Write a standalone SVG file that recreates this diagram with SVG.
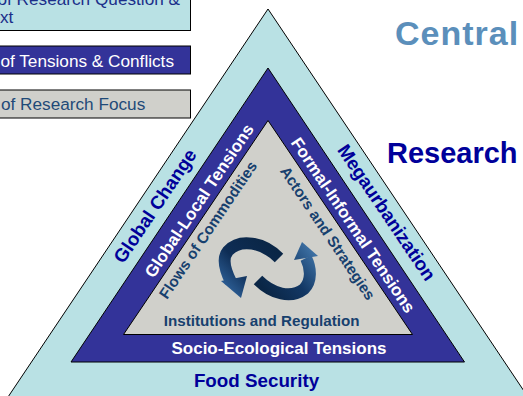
<svg xmlns="http://www.w3.org/2000/svg" width="523" height="396" viewBox="0 0 523 396">
  <style>
    .edge { stroke: #000; stroke-width: 1; }
    .box-text { font-family: "Liberation Sans", Arial, sans-serif; font-size: 17.2px; }
    .lbl { font-family: "Liberation Sans", Arial, sans-serif; font-weight: bold; text-anchor: middle; }
    .outer-lbl { font-size: 18.8px; fill: #00009a; }
    .mid-lbl { font-size: 17px; fill: #ffffff; }
    .inner-lbl { font-size: 15.2px; fill: #17406e; }
  </style>
  <defs>
    <linearGradient id="gradLeft" gradientUnits="userSpaceOnUse" x1="280" y1="255" x2="236" y2="296">
      <stop offset="0" stop-color="#0a2646"/>
      <stop offset="0.6" stop-color="#0e2d55"/>
      <stop offset="1" stop-color="#2a5a90"/>
    </linearGradient>
    <linearGradient id="gradRight" gradientUnits="userSpaceOnUse" x1="258" y1="282" x2="306" y2="244">
      <stop offset="0" stop-color="#0a2646"/>
      <stop offset="0.5" stop-color="#123764"/>
      <stop offset="1" stop-color="#3c6fa2"/>
    </linearGradient>
  </defs>

  <rect width="523" height="396" fill="#ffffff"/>

  <!-- legend boxes -->
  <g id="legend-context">
    <rect x="-5" y="-10" width="195.5" height="40.5" fill="#b9e1e4" class="edge"/>
    <text class="box-text" x="180" y="4.5" text-anchor="end" fill="#1b2f8a">of Research Question &amp;</text>
    <text class="box-text" x="0" y="22.7" fill="#1b2f8a">xt</text>
  </g>
  <g id="legend-tensions">
    <rect x="-5" y="46" width="195.5" height="28" fill="#333399" class="edge"/>
    <text class="box-text" x="174" y="66.5" text-anchor="end" fill="#ffffff">of Tensions &amp; Conflicts</text>
  </g>
  <g id="legend-focus">
    <rect x="-5" y="90" width="195.5" height="28" fill="#d0d0cb" class="edge"/>
    <text class="box-text" x="1" y="110" fill="#1f4a78">of Research Focus</text>
  </g>

  <!-- nested triangles -->
  <g id="ring-outer">
    <polygon points="268,9 -0.7,410 536.7,410" fill="#b9e1e4" class="edge"/>
    <text class="lbl outer-lbl" transform="translate(160.4,209.6) rotate(-56)">Global Change</text>
    <text class="lbl outer-lbl" transform="translate(381.3,216.1) rotate(56)">Megaurbanization</text>
    <text class="lbl outer-lbl" x="256.5" y="386.5">Food Security</text>
  </g>
  <g id="ring-middle">
    <polygon points="268,68 71,362 464.5,362" fill="#333399" class="edge"/>
    <text class="lbl mid-lbl" transform="translate(204,204) rotate(-56)">Global-Local Tensions</text>
    <text class="lbl mid-lbl" transform="translate(348.3,228.4) rotate(56)">Formal-Informal Tensions</text>
    <text class="lbl mid-lbl" x="279" y="353.5">Socio-Ecological Tensions</text>
  </g>
  <g id="ring-inner">
    <polygon points="268,120.5 123.5,334.5 412.5,334.5" fill="#d0d0cb" class="edge"/>
    <text class="lbl inner-lbl" transform="translate(212.4,232.8) rotate(-56)">Flows of Commodities</text>
    <text class="lbl inner-lbl" transform="translate(323.4,236.1) rotate(56)">Actors and Strategies</text>
    <text class="lbl inner-lbl" x="261.7" y="325.7">Institutions and Regulation</text>
  </g>

  <!-- cycle arrows -->
  <g id="connectors">
    <path d="M 279 258 C 263 242, 240 238, 228 251 C 221 259, 226 272, 231 282" fill="none" stroke="url(#gradLeft)" stroke-width="12"/>
    <polygon points="221,281 247,276 241,298" fill="url(#gradLeft)"/>
    <path d="M 258 280 C 272 294, 291 299, 304 289 C 312 281, 311 268, 306 258" fill="none" stroke="url(#gradRight)" stroke-width="12"/>
    <polygon points="294,260 318,256 302,242" fill="url(#gradRight)"/>
  </g>

  <!-- headings -->
  <text x="395" y="45" font-family="'Liberation Sans', Arial, sans-serif" font-weight="bold" font-size="34" letter-spacing="1" fill="#5b8fbb">Central</text>
  <text x="387" y="163.3" font-family="'Liberation Sans', Arial, sans-serif" font-weight="bold" font-size="29" fill="#00009a">Research</text>
</svg>
